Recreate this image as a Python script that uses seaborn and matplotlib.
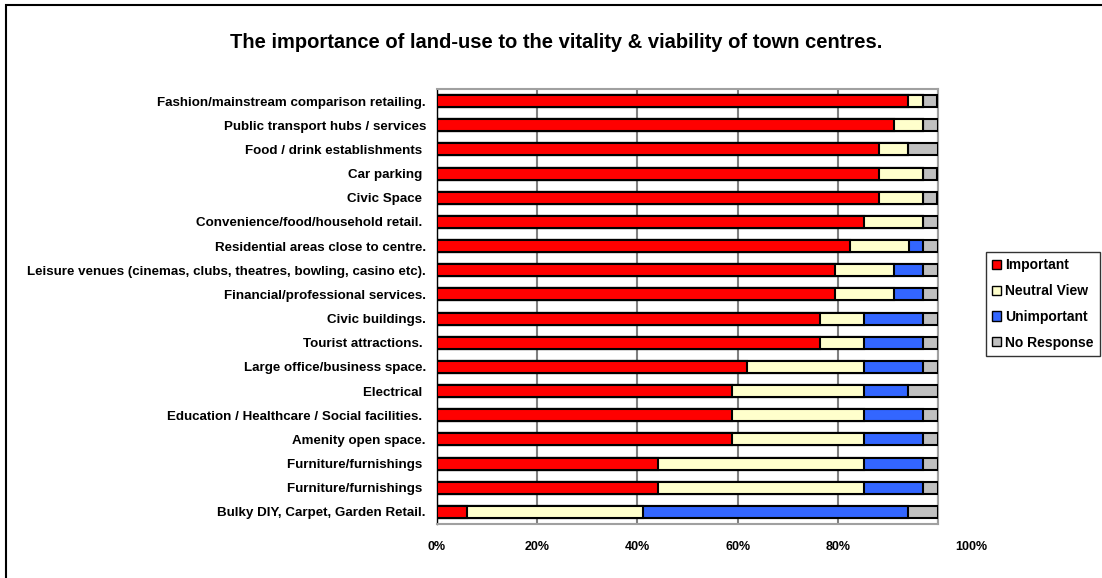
import matplotlib
matplotlib.use("Agg")
import matplotlib.pyplot as plt
import matplotlib.transforms as mtransforms
from matplotlib.patches import Rectangle, Patch
import numpy as np
import pandas as pd
import seaborn as sns

# survey results, % of respondents per land-use
categories = [
    "Fashion/mainstream comparison retailing.",
    "Public transport hubs / services",
    "Food / drink establishments ",
    "Car parking ",
    "Civic Space ",
    "Convenience/food/household retail. ",
    "Residential areas close to centre.",
    "Leisure venues (cinemas, clubs, theatres, bowling, casino etc).",
    "Financial/professional services.",
    "Civic buildings.",
    "Tourist attractions. ",
    "Large office/business space.",
    "Electrical ",
    "Education / Healthcare / Social facilities. ",
    "Amenity open space.",
    "Furniture/furnishings ",
    "Furniture/furnishings ",
    "Bulky DIY, Carpet, Garden Retail.",
]
important = [94.1, 91.2, 88.2, 88.2, 88.2, 85.3, 82.4, 79.4, 79.4, 76.5,
             76.5, 61.8, 58.8, 58.8, 58.8, 44.1, 44.1, 5.9]
neutral = [2.9, 5.9, 5.9, 8.8, 8.8, 11.8, 11.8, 11.8, 11.8, 8.8,
           8.8, 23.5, 26.5, 26.5, 26.5, 41.2, 41.2, 35.3]
unimportant = [0.0, 0.0, 0.0, 0.0, 0.0, 0.0, 2.9, 5.9, 5.9, 11.8,
               11.8, 11.8, 8.8, 11.8, 11.8, 11.8, 11.8, 52.9]
no_response = [2.9, 2.9, 5.9, 2.9, 2.9, 2.9, 2.9, 2.9, 2.9, 2.9,
               2.9, 2.9, 5.9, 2.9, 2.9, 2.9, 2.9, 5.9]

series_names = ["Important", "Neutral View", "Unimportant", "No Response"]
series_colors = ["#FF0000", "#FFFFCC", "#3366FF", "#C0C0C0"]
xtick_vals = [0, 20, 40, 60, 80, 100]

sns.set_style("white")
plt.rcParams["font.family"] = ["Liberation Sans", "DejaVu Sans"]
plt.rcParams["font.weight"] = "bold"
plt.rcParams["text.color"] = "black"
plt.rcParams["xtick.color"] = "black"
plt.rcParams["ytick.color"] = "black"

df = pd.DataFrame({
    "row": range(len(categories)),
    "Important": important,
    "Neutral View": neutral,
    "Unimportant": unimportant,
    "No Response": no_response,
})
# cumulative ends for stacking
cum = df[series_names].cumsum(axis=1)

fig = plt.figure(figsize=(11.02, 5.78), dpi=100)
ax = fig.add_axes([437 / 1102, 1 - 524 / 578, (938 - 437) / 1102, (524 - 89) / 578])

# draw longest stack first, shorter ones overlay
for name, color in reversed(list(zip(series_names, series_colors))):
    sns.barplot(x=cum[name], y=df["row"], orient="h", color=color, saturation=1,
                width=0.5, edgecolor="black", linewidth=1.5, ax=ax, zorder=3)

ax.set_xlim(0, 100)
ax.set_ylim(len(categories) - 0.5, -0.5)
ax.set_xlabel("")
ax.set_ylabel("")

ax.set_xticks(xtick_vals)
ax.set_xticklabels([f"{v}%" for v in xtick_vals], fontsize=9, fontweight="bold")
ax.set_yticks(range(len(categories)))
ax.set_yticklabels(categories, fontsize=9.6, fontweight="bold")
ax.tick_params(axis="y", which="major", length=0, pad=8)
ax.set_yticks(np.arange(-0.5, len(categories), 1), minor=True)
ax.tick_params(axis="y", which="minor", length=4, width=1, color="black", direction="out")
ax.tick_params(axis="x", which="major", length=4, width=1, color="#808080", pad=8, direction="out")

# 100% label sits offset to the right, as in the original
last = ax.get_xticklabels()[-1]
last.set_transform(last.get_transform() + mtransforms.ScaledTranslation(0.33, 0, fig.dpi_scale_trans))

ax.grid(axis="x", color="#808080", linewidth=1.5, zorder=0)
ax.set_axisbelow(True)
for side in ["top", "right", "bottom"]:
    ax.spines[side].set_color("#A0A0A0")
    ax.spines[side].set_linewidth(1.5)
ax.spines["left"].set_color("black")
ax.spines["left"].set_linewidth(1.0)

fig.text(556 / 1102, 1 - 42 / 578, "The importance of land-use to the vitality & viability of town centres.",
         ha="center", va="center", fontsize=14.5, fontweight="bold", color="black")

handles = [Patch(facecolor=c, edgecolor="black", linewidth=1.0) for c in series_colors]
leg = fig.legend(handles, series_names, loc="upper left",
                 bbox_to_anchor=(986 / 1102, 1 - 252 / 578), frameon=True,
                 prop={"weight": "bold", "size": 10},
                 handlelength=0.65, handleheight=0.65, handletextpad=0.25,
                 labelspacing=0.85, borderpad=0.45, borderaxespad=0,
                 fancybox=False)
leg.get_frame().set_edgecolor("black")
leg.get_frame().set_linewidth(1.0)

# outer chart frame (only top/left visible in the crop)
fig.patches.append(Rectangle((6 / 1102, -0.1), 1.2, 1 - 5 / 578 + 0.1, transform=fig.transFigure,
                             fill=False, edgecolor="black", linewidth=1.5))

fig.savefig("out.png", dpi=100)
